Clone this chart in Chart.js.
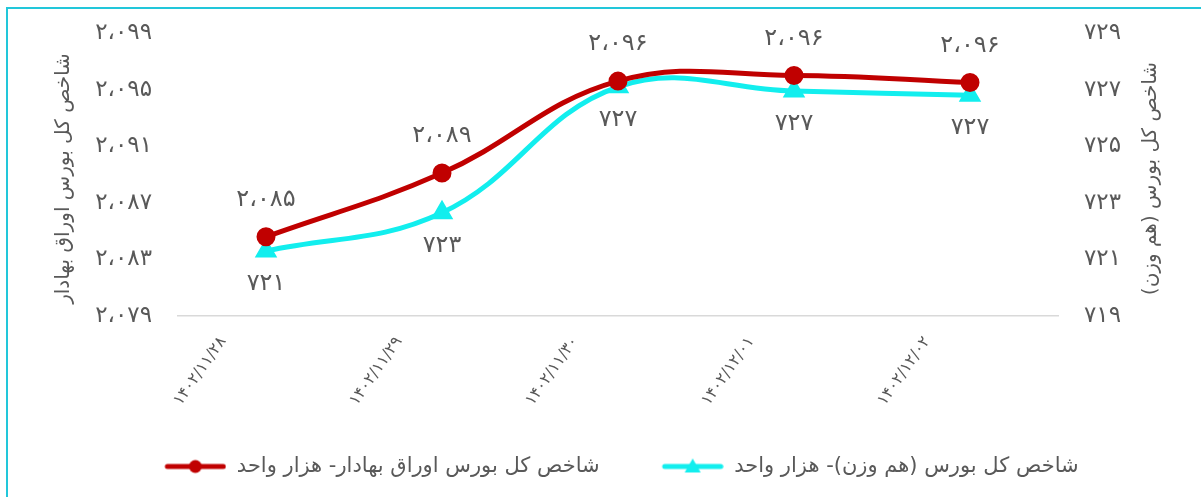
<!DOCTYPE html>
<html>
<head>
<meta charset="utf-8">
<script src="https://cdn.jsdelivr.net/npm/chart.js@4"></script>
<style>
  html, body { margin: 0; padding: 0; background: #fff; overflow: hidden; }
  #wrap { position: absolute; left: 0; top: 0; width: 1201px; height: 497px; }
  #frame { position: absolute; left: 6px; top: 7px; width: 1300px; height: 600px; border: 2px solid #22c7da; box-sizing: border-box; pointer-events: none; }
</style>
</head>
<body>
<div id="wrap"><canvas id="chart" width="1201" height="497"></canvas></div>
<div id="frame"></div>
<script>
const dates = ["1402/11/28", "1402/11/29", "1402/11/30", "1402/12/01", "1402/12/02"];
const bourseIndex = [2084.6, 2089.1, 2095.6, 2096.0, 2095.5];
const equalWeightIndex = [721.3, 722.65, 727.1, 726.95, 726.8];

const bourseLabel = "شاخص کل بورس اوراق بهادار- هزار واحد";
const equalLabel = "شاخص کل بورس (هم وزن)- هزار واحد";
const leftTitle = "شاخص کل بورس اوراق بهادار";
const rightTitle = "شاخص کل بورس (هم وزن)";

const RED = "#c00000";
const CYAN = "#12eeee";
const TEXT = "#595959";
const FONT = "'DejaVu Sans', sans-serif";

function toFa(str) {
  return String(str).replace(/\d/g, (d) => "۰۱۲۳۴۵۶۷۸۹"[d]);
}
function faNum(n) {
  const s = Math.round(n).toString().replace(/\B(?=(\d{3})+(?!\d))/g, "،");
  return toFa(s);
}

// legend sample: line with marker, transparent gap on the left
const ICON_GAP = 42;
function legendIcon(color, marker) {
  const c = document.createElement("canvas");
  c.width = 62 + ICON_GAP; c.height = 18;
  const x = c.getContext("2d");
  x.translate(ICON_GAP, 0);
  x.strokeStyle = color; x.lineWidth = 5; x.lineCap = "round";
  x.beginPath(); x.moveTo(3, 9); x.lineTo(59, 9); x.stroke();
  x.fillStyle = color;
  x.beginPath();
  if (marker === "circle") {
    x.arc(31, 9, 6.5, 0, Math.PI * 2);
  } else {
    x.moveTo(31, 1); x.lineTo(39, 15); x.lineTo(23, 15); x.closePath();
  }
  x.fill();
  return c;
}

const valueLabels = {
  id: "valueLabels",
  afterDatasetsDraw(chart) {
    const ctx = chart.ctx;
    ctx.save();
    ctx.font = "24px " + FONT;
    ctx.fillStyle = TEXT;
    ctx.textAlign = "center";
    ctx.textBaseline = "middle";
    chart.data.datasets.forEach((ds, i) => {
      const meta = chart.getDatasetMeta(i);
      const off = i === 0 ? -37 : 33;
      meta.data.forEach((pt, j) => {
        ctx.fillText(faNum(ds.data[j]), pt.x, pt.y + off);
      });
    });
    ctx.restore();
  }
};

const axisTitles = {
  id: "axisTitles",
  afterDraw(chart) {
    const ctx = chart.ctx;
    const a = chart.chartArea;
    const cy = (a.top + a.bottom) / 2 + 4;
    ctx.save();
    ctx.font = "20px " + FONT;
    ctx.fillStyle = TEXT;
    ctx.textAlign = "center";
    ctx.textBaseline = "middle";
    [[64, leftTitle], [1151, rightTitle]].forEach(([x, t]) => {
      ctx.save();
      ctx.translate(x, cy);
      ctx.rotate(-Math.PI / 2);
      ctx.fillText(t, 0, 0);
      ctx.restore();
    });
    ctx.restore();
  }
};

const ctx = document.getElementById("chart").getContext("2d");
new Chart(ctx, {
  type: "line",
  data: {
    labels: dates.map(toFa),
    datasets: [
      {
        label: bourseLabel,
        data: bourseIndex,
        yAxisID: "y",
        borderColor: RED,
        backgroundColor: RED,
        borderWidth: 5,
        pointStyle: "circle",
        pointRadius: 7,
        pointHoverRadius: 7,
        tension: 0.4
      },
      {
        label: equalLabel,
        data: equalWeightIndex,
        yAxisID: "y1",
        borderColor: CYAN,
        backgroundColor: CYAN,
        borderWidth: 5,
        pointStyle: "triangle",
        pointRadius: 8,
        pointHoverRadius: 8,
        tension: 0.4
      }
    ]
  },
  options: {
    responsive: false,
    animation: false,
    events: [],
    layout: { padding: { top: 33, bottom: 10, left: 0, right: 0 } },
    plugins: {
      tooltip: { enabled: false },
      legend: {
        position: "bottom",
        labels: {
          font: { family: FONT, size: 21 },
          color: TEXT,
          usePointStyle: true,
          pointStyleWidth: 62 + ICON_GAP,
          boxHeight: 18,
          padding: 20,
          generateLabels() {
            return [
              { text: bourseLabel, pointStyle: legendIcon(RED, "circle"), fillStyle: RED, strokeStyle: RED, lineWidth: 0, datasetIndex: 0, fontColor: TEXT },
              { text: equalLabel, pointStyle: legendIcon(CYAN, "triangle"), fillStyle: CYAN, strokeStyle: CYAN, lineWidth: 0, datasetIndex: 1, fontColor: TEXT }
            ];
          }
        }
      }
    },
    scales: {
      x: {
        offset: true,
        grid: { display: true, drawOnChartArea: false, drawTicks: false },
        border: { display: true, color: "#d9d9d9", width: 1.5 },
        ticks: {
          color: TEXT,
          font: { family: FONT, size: 16 },
          minRotation: 55,
          maxRotation: 55,
          padding: 17,
          labelOffset: -43
        },
        afterFit(scale) { scale.height = 120; }
      },
      y: {
        position: "left",
        min: 2079,
        max: 2099,
        grid: { display: false },
        border: { display: false },
        ticks: {
          stepSize: 4,
          color: TEXT,
          padding: 18,
          font: { family: FONT, size: 23 },
          callback: (v) => faNum(v)
        },
        afterFit(scale) { scale.width = 178; }
      },
      y1: {
        position: "right",
        min: 719,
        max: 729,
        grid: { display: false },
        border: { display: false },
        ticks: {
          stepSize: 2,
          color: TEXT,
          padding: 18,
          font: { family: FONT, size: 23 },
          callback: (v) => faNum(v)
        },
        afterFit(scale) { scale.width = 143; }
      }
    }
  },
  plugins: [valueLabels, axisTitles]
});
</script>
</body>
</html>
